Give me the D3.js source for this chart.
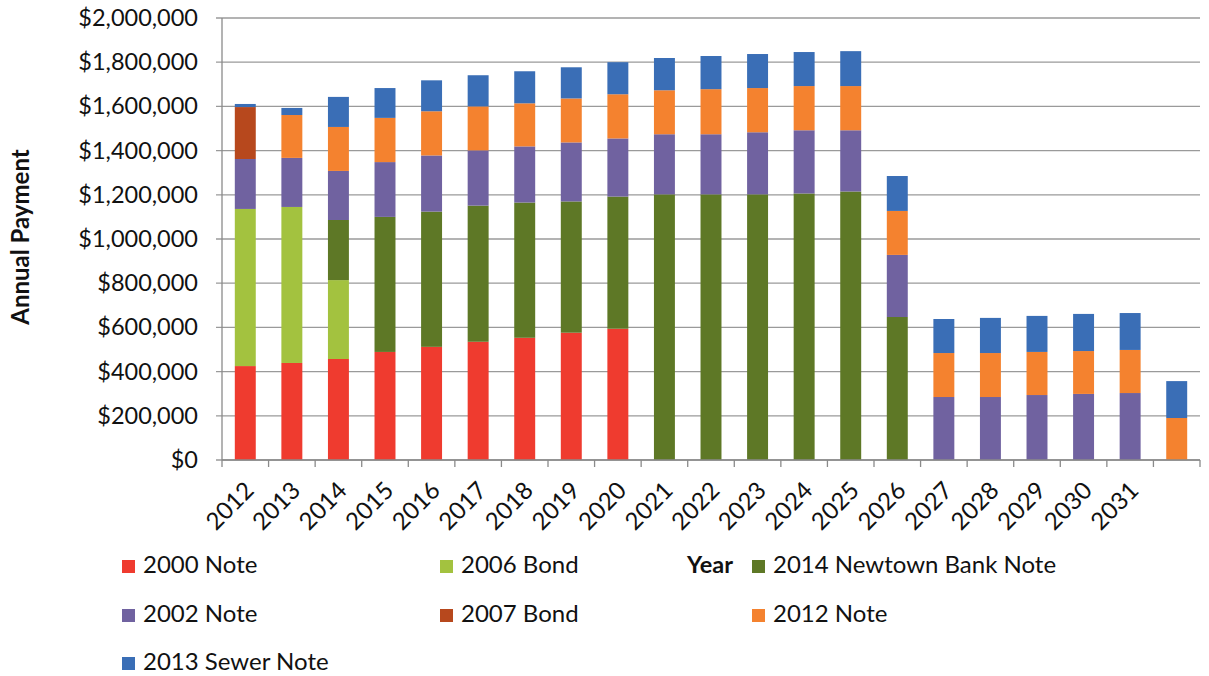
<!DOCTYPE html>
<html>
<head>
<meta charset="utf-8">
<script src="https://cdn.jsdelivr.net/npm/d3@7"></script>
<style>
  html, body { margin: 0; padding: 0; background: #ffffff; }
  svg { display: block; }
  text { font-family: Lato, "Open Sans", sans-serif; fill: #111; }
</style>
</head>
<body>
<svg id="chart" width="1209" height="676"></svg>
<script>
// Payment years (the final year carries no label on the axis)
const years = ["2012","2013","2014","2015","2016","2017","2018","2019","2020","2021",
               "2022","2023","2024","2025","2026","2027","2028","2029","2030","2031",""];

// Annual payment per obligation, in dollars
const note2000 = [425000,439000,457000,489000,512000,535000,553000,576000,594000,0,
                  0,0,0,0,0,0,0,0,0,0,0];
const bond2006 = [711000,706000,357000,0,0,0,0,0,0,0,
                  0,0,0,0,0,0,0,0,0,0,0];
const newtownNote2014 = [0,0,272000,611000,612000,616000,612000,594000,598000,1202000,
                  1202000,1202000,1206000,1215000,647000,0,0,0,0,0,0];
const note2002 = [226000,222000,222000,248000,254000,250000,254000,267000,263000,272000,
                  272000,281000,286000,277000,281000,285000,285000,294000,299000,303000,0];
const bond2007 = [235000,0,0,0,0,0,0,0,0,0,
                  0,0,0,0,0,0,0,0,0,0,0];
const note2012 = [0,194000,199000,200000,200000,199000,195000,199000,200000,199000,
                  204000,200000,200000,200000,199000,199000,199000,195000,194000,195000,190000];
const sewerNote2013 = [14000,32000,136000,135000,140000,141000,145000,141000,145000,146000,
                  150000,154000,154000,158000,158000,154000,159000,163000,168000,167000,167000];

const yTicks = [0,200000,400000,600000,800000,1000000,1200000,1400000,1600000,1800000,2000000];

// Stacking order, bottom to top
const seriesNames = ["2000 Note","2006 Bond","2014 Newtown Bank Note","2002 Note",
                     "2007 Bond","2012 Note","2013 Sewer Note"];
const seriesValues = [note2000, bond2006, newtownNote2014, note2002, bond2007, note2012, sewerNote2013];
const seriesColors = ["#EF3B2F","#A3C23F","#5E7826","#7062A0","#B7481D","#F4822F","#3A6EB6"];

// Legend layout: rows of [series index]
const legendOrder = [[0,1,2],[3,4,5],[6]];

const rows = years.map((y, i) => {
  const r = { year: y, idx: i };
  seriesNames.forEach((n, k) => { r[n] = seriesValues[k][i]; });
  return r;
});

const svg = d3.select("#chart");

const x = d3.scaleBand()
  .domain(rows.map(d => d.idx))
  .range([222, 1200])
  .paddingInner(0.55)
  .paddingOuter(0.275);

const y = d3.scaleLinear().domain([0, 2000000]).range([460, 18]);

const color = d3.scaleOrdinal().domain(seriesNames).range(seriesColors);

// Horizontal gridlines
svg.append("g")
  .selectAll("line")
  .data(yTicks)
  .join("line")
  .attr("x1", 216).attr("x2", 1200)
  .attr("y1", d => y(d)).attr("y2", d => y(d))
  .attr("stroke", "#9a9a9a").attr("stroke-width", 1.3);

// Y axis labels
const yAxis = d3.axisLeft(y)
  .tickValues(yTicks)
  .tickFormat(d3.format("$,.0f"))
  .tickSize(0)
  .tickPadding(24);
const yg = svg.append("g").attr("transform", "translate(222,0)").call(yAxis);
yg.select(".domain").remove();
yg.selectAll("text")
  .style("font-family", "Lato, sans-serif")
  .style("font-size", "23.5px")
  .attr("fill", "#111");

// Stacked bars
const stack = d3.stack().keys(seriesNames)(rows);
svg.append("g")
  .selectAll("g")
  .data(stack)
  .join("g")
  .attr("fill", d => color(d.key))
  .selectAll("rect")
  .data(d => d.filter(s => s[1] - s[0] > 0))
  .join("rect")
  .attr("x", s => x(s.data.idx))
  .attr("width", x.bandwidth())
  .attr("y", s => y(s[1]))
  .attr("height", s => y(s[0]) - y(s[1]));

// Axis lines
svg.append("line")
  .attr("x1", 222).attr("x2", 222).attr("y1", 18).attr("y2", 460)
  .attr("stroke", "#8a8a8a").attr("stroke-width", 1.3);
svg.append("line")
  .attr("x1", 222).attr("x2", 1200).attr("y1", 460).attr("y2", 460)
  .attr("stroke", "#8a8a8a").attr("stroke-width", 1.3);

// Category boundary ticks on the x axis
const half = (x.step() - x.bandwidth()) / 2;
const tickXs = rows.map(d => x(d.idx) - half).concat([x(rows[rows.length - 1].idx) + x.bandwidth() + half]);
svg.append("g")
  .selectAll("line")
  .data(tickXs)
  .join("line")
  .attr("x1", d => d).attr("x2", d => d)
  .attr("y1", 460).attr("y2", 467)
  .attr("stroke", "#8a8a8a").attr("stroke-width", 1.3);

// Rotated year labels
svg.append("g")
  .selectAll("text")
  .data(rows)
  .join("text")
  .attr("text-anchor", "end")
  .attr("transform", d => `translate(${x(d.idx) + x.bandwidth() / 2 + 10},${492}) rotate(-45)`)
  .style("font-size", "24px")
  .text(d => d.year);

// Axis titles
svg.append("text")
  .attr("transform", "translate(29,237) rotate(-90)")
  .attr("text-anchor", "middle")
  .style("font-size", "24px")
  .style("font-weight", "700")
  .text("Annual Payment");

svg.append("text")
  .attr("x", 710).attr("y", 573)
  .attr("text-anchor", "middle")
  .style("font-size", "23.5px")
  .style("font-weight", "700")
  .text("Year");

// Legend
const colX = [122, 440, 752];
const rowY = [573, 622, 670];
legendOrder.forEach((row, r) => {
  row.forEach((si, c) => {
    const g = svg.append("g").attr("transform", `translate(${colX[c]},${rowY[r]})`);
    g.append("rect")
      .attr("x", 0).attr("y", -13).attr("width", 13).attr("height", 13)
      .attr("fill", seriesColors[si]);
    g.append("text")
      .attr("x", 21).attr("y", 0)
      .style("font-size", "24px")
      .text(seriesNames[si]);
  });
});
</script>
</body>
</html>
